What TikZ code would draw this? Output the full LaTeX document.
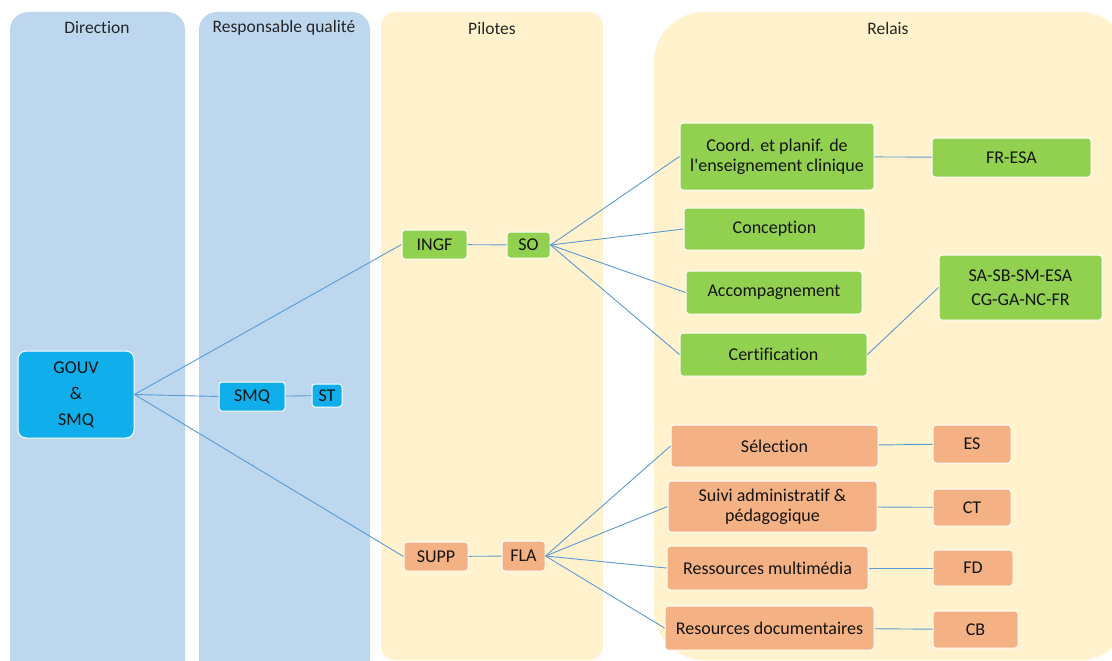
\documentclass[tikz,border=0pt]{standalone}
\usepackage{fontspec}
\setmainfont{Carlito}[RawFeature=-liga]
\begin{document}
\begin{tikzpicture}[x=1pt,y=-1pt,
  colblue/.style={fill=bgblue,draw=none,rounded corners=18pt},
  colyel/.style={fill=bgyel,draw=none,rounded corners=18pt},
  title/.style={font=\fontsize{17.5}{20}\selectfont,text=black!85},
  box/.style={draw=white,line width=1pt,rounded corners=3pt,font=\fontsize{18}{20}\selectfont,text=black!92,align=center,inner sep=0pt},
  bbox/.style={box,fill=nblue},
  gbox/.style={box,fill=ngreen},
  obox/.style={box,fill=norange},
  link/.style={draw=lnk,line width=0.9pt}]
\definecolor{bgblue}{HTML}{BDD7EE}
\definecolor{bgyel}{HTML}{FFF2CC}
\definecolor{nblue}{HTML}{10AEEA}
\definecolor{ngreen}{HTML}{92D050}
\definecolor{norange}{HTML}{F4B183}
\definecolor{lnk}{HTML}{5B9BD5}
\useasboundingbox (0,0) rectangle (1112,661);
\clip (0,0) rectangle (1112,661);
\fill[white] (0,0) rectangle (1112,661);
% columns
\path[colblue] (10,12) rectangle (185,690);
\path[colblue] (199,12) rectangle (370,690);
\path[colyel,rounded corners=14pt] (381,12) rectangle (603,660);
\path[fill=bgyel,draw=none] (654,660) [rounded corners=50pt] -- (654,12) -- (1130,12) -- (1130,660) -- cycle;
\node[title] (t1) at (97,28) {Direction};
\node[title] (t2) at (284,28) {Responsable qualité};
\node[title] (t3) at (492,28) {Pilotes};
\node[title] (t4) at (888,28) {Relais};
% nodes
\node[bbox,rounded corners=8pt,minimum width=116pt,minimum height=87pt] (gouv) at (76,394.5) {GOUV\\[6pt]\&\\[6pt]SMQ};
\node[bbox,minimum width=66pt,minimum height=29pt] (smq) at (252,396.5) {SMQ};
\node[bbox,minimum width=30pt,minimum height=23pt] (st) at (327,395.5) {ST};
\node[gbox,minimum width=65pt,minimum height=29pt] (ingf) at (434.5,244.5) {INGF};
\node[gbox,minimum width=43pt,minimum height=26pt] (so) at (528.5,245) {SO};
\node[gbox,minimum width=194pt,minimum height=67pt,align=center] (coord) at (777,156.5) {Coord. et planif. de\\l\textquotesingle enseignement clinique};
\node[gbox,minimum width=159pt,minimum height=39pt] (fresa) at (1011.5,157.5) {FR-ESA};
\node[gbox,minimum width=181pt,minimum height=42pt] (conc) at (774.5,229) {Conception};
\node[gbox,minimum width=176pt,minimum height=43pt] (acc) at (774,292.5) {Accompagnement};
\node[gbox,minimum width=187pt,minimum height=43pt] (cert) at (773.5,354.5) {Certification};
\node[gbox,minimum width=163pt,minimum height=65pt] (sasb) at (1020.5,287.5) {SA-SB-SM-ESA\\[4pt]CG-GA-NC-FR};
\node[obox,minimum width=64pt,minimum height=29pt] (supp) at (436,556.5) {SUPP};
\node[obox,minimum width=43pt,minimum height=30pt] (fla) at (523.5,556) {FLA};
\node[obox,minimum width=207pt,minimum height=42pt] (sel) at (774.5,446) {Sélection};
\node[obox,minimum width=209pt,minimum height=51pt] (suivi) at (772.5,506.5) {Suivi administratif \&\\pédagogique};
\node[obox,minimum width=201pt,minimum height=44pt] (rmul) at (767.5,568) {Ressources multimédia};
\node[obox,minimum width=209pt,minimum height=44pt] (rdoc) at (769.5,628) {Resources documentaires};
\node[obox,minimum width=78pt,minimum height=38pt] (es) at (972,444) {ES};
\node[obox,minimum width=78pt,minimum height=37pt] (ct) at (972,507.5) {CT};
\node[obox,minimum width=80pt,minimum height=36pt] (fd) at (973,568) {FD};
\node[obox,minimum width=85pt,minimum height=37pt] (cb) at (975.5,629.5) {CB};
% links
\draw[link] (gouv.east) -- (ingf.west);
\draw[link] (gouv.east) -- (smq.west);
\draw[link] (gouv.east) -- (supp.west);
\draw[link] (smq) -- (st);
\draw[link] (ingf) -- (so);
\draw[link] (so.east) -- (coord.west);
\draw[link] (so.east) -- (conc.west);
\draw[link] (so.east) -- (acc.west);
\draw[link] (so.east) -- (cert.west);
\draw[link] (coord) -- (fresa);
\draw[link] (cert.east) -- (sasb.west);
\draw[link] (supp) -- (fla);
\draw[link] (fla.east) -- (sel.west);
\draw[link] (fla.east) -- (suivi.west);
\draw[link] (fla.east) -- (rmul.west);
\draw[link] (fla.east) -- (rdoc.west);
\draw[link] (sel) -- (es);
\draw[link] (suivi) -- (ct);
\draw[link] (rmul) -- (fd);
\draw[link] (rdoc) -- (cb);
\end{tikzpicture}
\end{document}
